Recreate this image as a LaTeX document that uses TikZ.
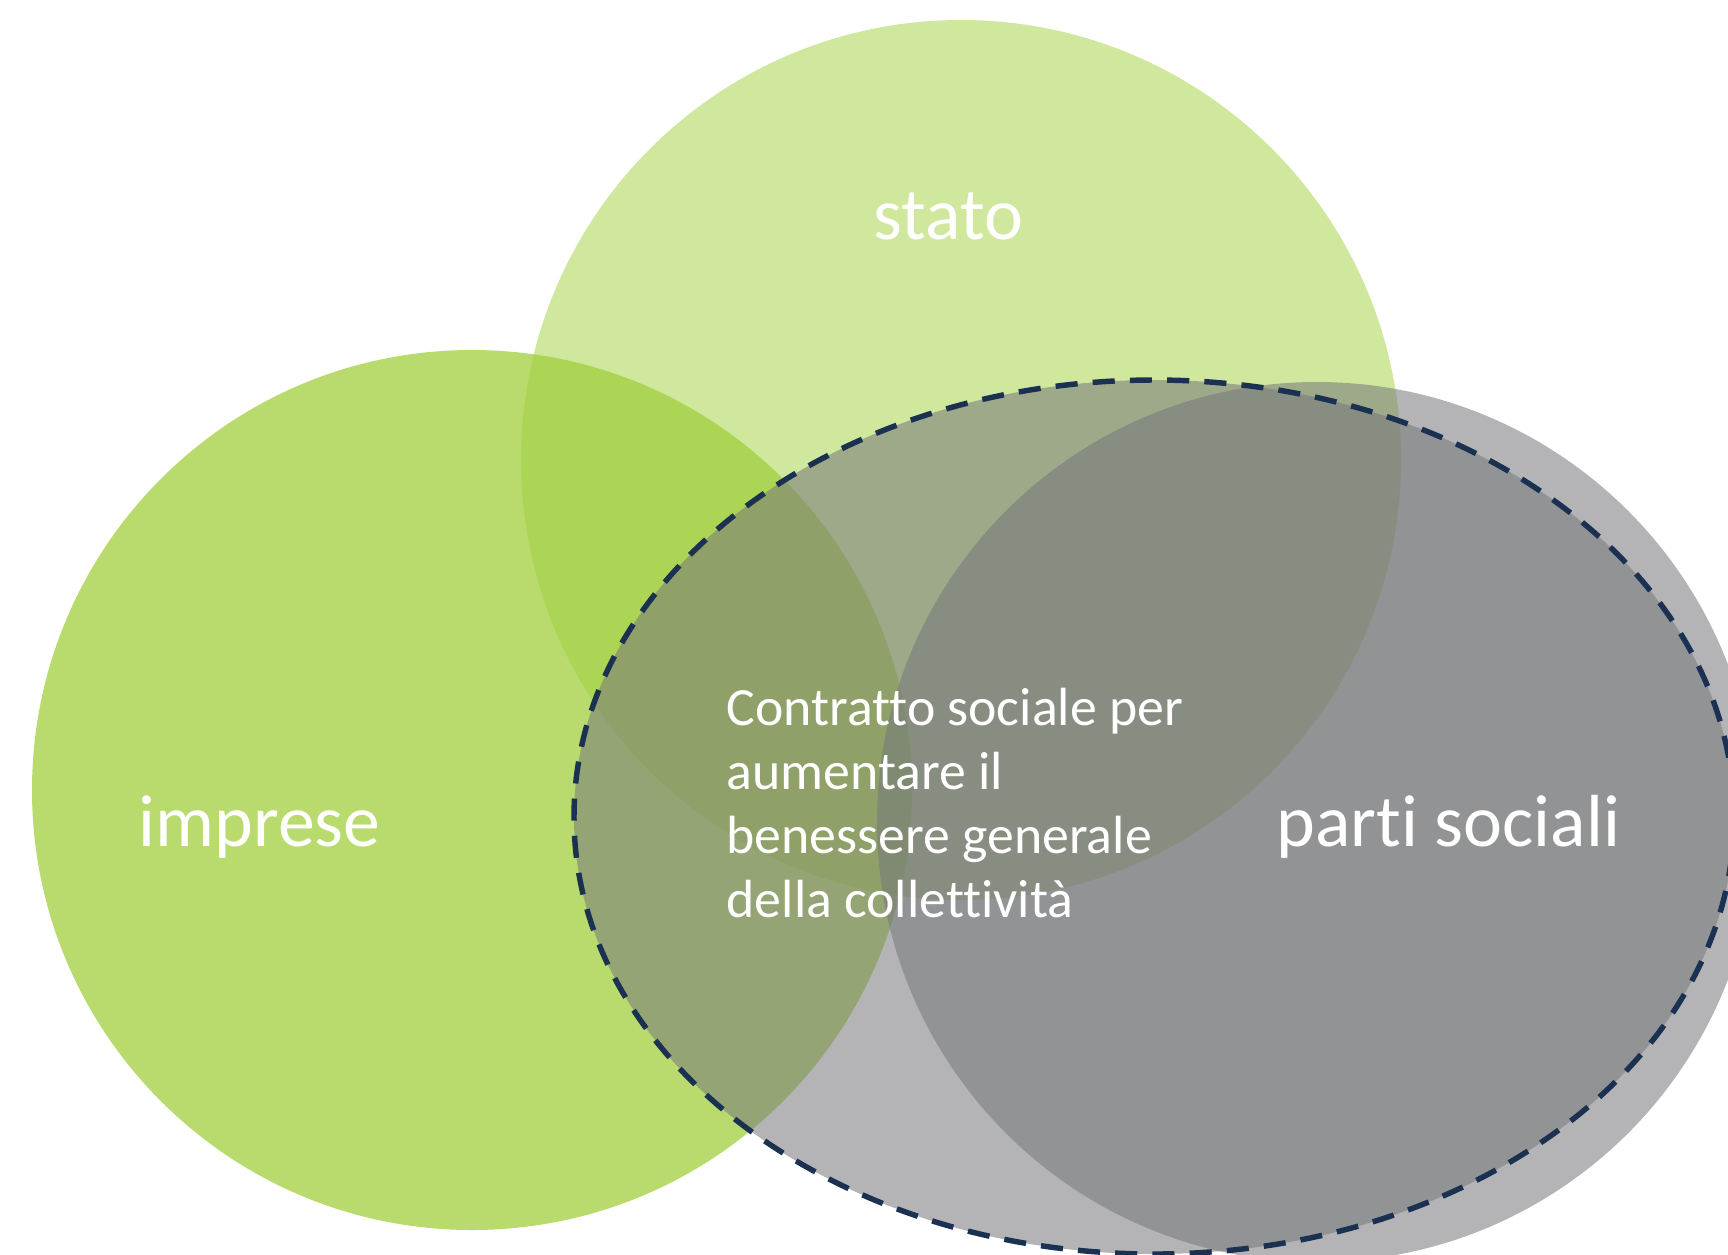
\documentclass[tikz,border=0pt]{standalone}
\usepackage{fontspec}
\setmainfont{Carlito}[Ligatures=NoCommon]
\usepackage{tikz}

\definecolor{vgreen}{HTML}{A1CF3D}
\definecolor{vgray}{HTML}{76777A}
\definecolor{vnavy}{HTML}{1B3152}

\begin{document}
\begin{tikzpicture}[x=0.1mm,y=-0.1mm,
                    bigtxt/.style={text=white,inner sep=0pt,anchor=base west,
                      font=\fontsize{21pt}{25pt}\selectfont},
                    smalltxt/.style={text=white,inner sep=0pt,anchor=base west,
                      align=left,font=\fontsize{15.3pt}{18.2pt}\selectfont}]
  \useasboundingbox (0,0) rectangle (1728,1254);
  \clip (0,0) rectangle (1728,1254);

  % circles
  \fill[vgreen,opacity=0.75] (472,790) circle (440);
  \fill[vgreen,opacity=0.5]  (961,460) circle (440);
  \fill[vgray,opacity=0.55]  (1317,822) circle (440);
  \draw[vnavy,line width=1.55pt,dash pattern=on 6.3pt off 4.3pt,
        fill=vgray,fill opacity=0.55] (1154,817) ellipse (580 and 437);

  \node[bigtxt] (S) at (873,239)  {stato};
  \node[bigtxt] (I) at (138,846)  {imprese};
  \node[bigtxt] (P) at (1276,846) {parti sociali};
  % base anchor sits on the last line
  \node[smalltxt] (C) at (726,917)
    {Contratto sociale per\\aumentare il\\benessere generale\\della collettività};
\end{tikzpicture}
\end{document}
